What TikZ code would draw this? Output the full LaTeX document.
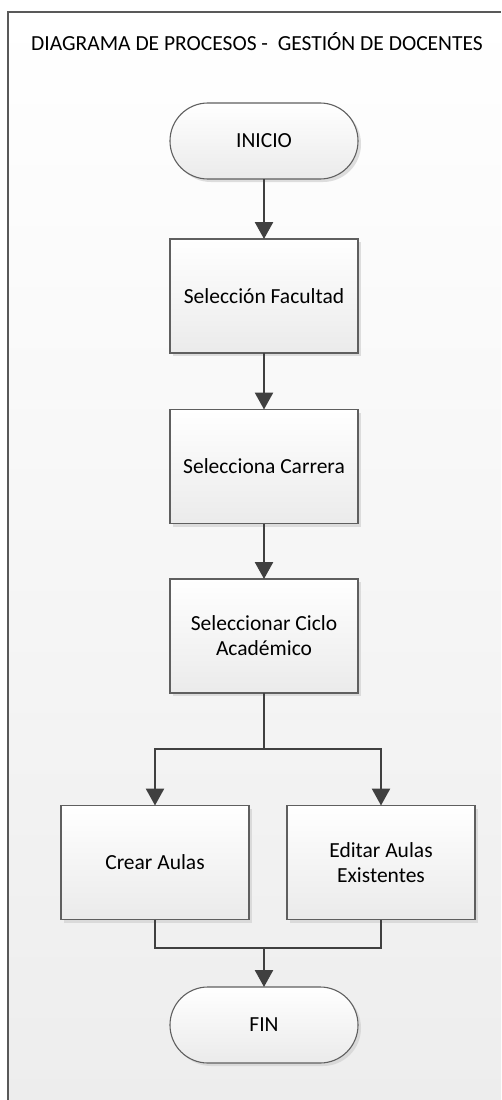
\documentclass[tikz,border=0pt]{standalone}
\usepackage{fontspec}
\setmainfont{Carlito}
\usetikzlibrary{arrows.meta,shadows}
\definecolor{lineGray}{HTML}{404040}
\definecolor{edgeGray}{HTML}{5F5F5F}
\begin{document}
\begin{tikzpicture}[x=1pt,y=-1pt,
  every node/.style={font=\fontsize{21.5}{25}\selectfont},
  shapebase/.style={draw=edgeGray, line width=1.1pt, top color=white, bottom color=black!8,
    drop shadow={shadow xshift=3pt, shadow yshift=-3pt, fill=black!18, opacity=0.7},
    align=center, inner sep=0pt, outer sep=0pt},
  process/.style={shapebase, rectangle, minimum width=188pt, minimum height=114pt},
  terminal/.style={shapebase, rectangle, rounded corners=37.9pt, minimum width=188pt, minimum height=76pt},
  flow/.style={draw=lineGray, line width=2.6pt},
  flowarrow/.style={flow, -{Triangle[width=18pt,length=17pt]}},
  frameline/.style={draw=black!65, line width=1.4pt},
]
% page and sheet background
\useasboundingbox (0,0) rectangle (501,1100);
\fill[white] (0,0) rectangle (501,1100);
\shade[top color=white, bottom color=black!7] (8,12) rectangle (501,1100);
\draw[frameline] (8,1100) -- (8,12) -- (501,12);

% title
\node[anchor=base] (title) at (257,50) {DIAGRAMA DE PROCESOS -~ GESTIÓN DE DOCENTES};

% flow steps
\node[terminal] (inicio) at (264,141) {INICIO};
\node[process] (fac) at (264,296) {Selección Facultad};
\node[process] (car) at (264,466.5) {Selecciona Carrera};
\node[process] (ciclo) at (264,636) {Seleccionar Ciclo\\Académico};
\node[process] (crear) at (155,862.5) {Crear Aulas};
\node[process] (editar) at (381,862.5) {Editar Aulas\\Existentes};
\node[terminal] (fin) at (264,1025) {FIN};

% connectors
\draw[flowarrow] (inicio) -- (fac);
\draw[flowarrow] (fac) -- (car);
\draw[flowarrow] (car) -- (ciclo);
\coordinate (split) at (264,749);
\draw[flow] (ciclo.south) -- (split);
\draw[flowarrow] (split) -| (crear.north);
\draw[flowarrow] (split) -| (editar.north);
\coordinate (join) at (264,948);
\draw[flow] (crear.south) |- (join) -| (editar.south);
\draw[flowarrow] (join) -- (fin);
\end{tikzpicture}
\end{document}
